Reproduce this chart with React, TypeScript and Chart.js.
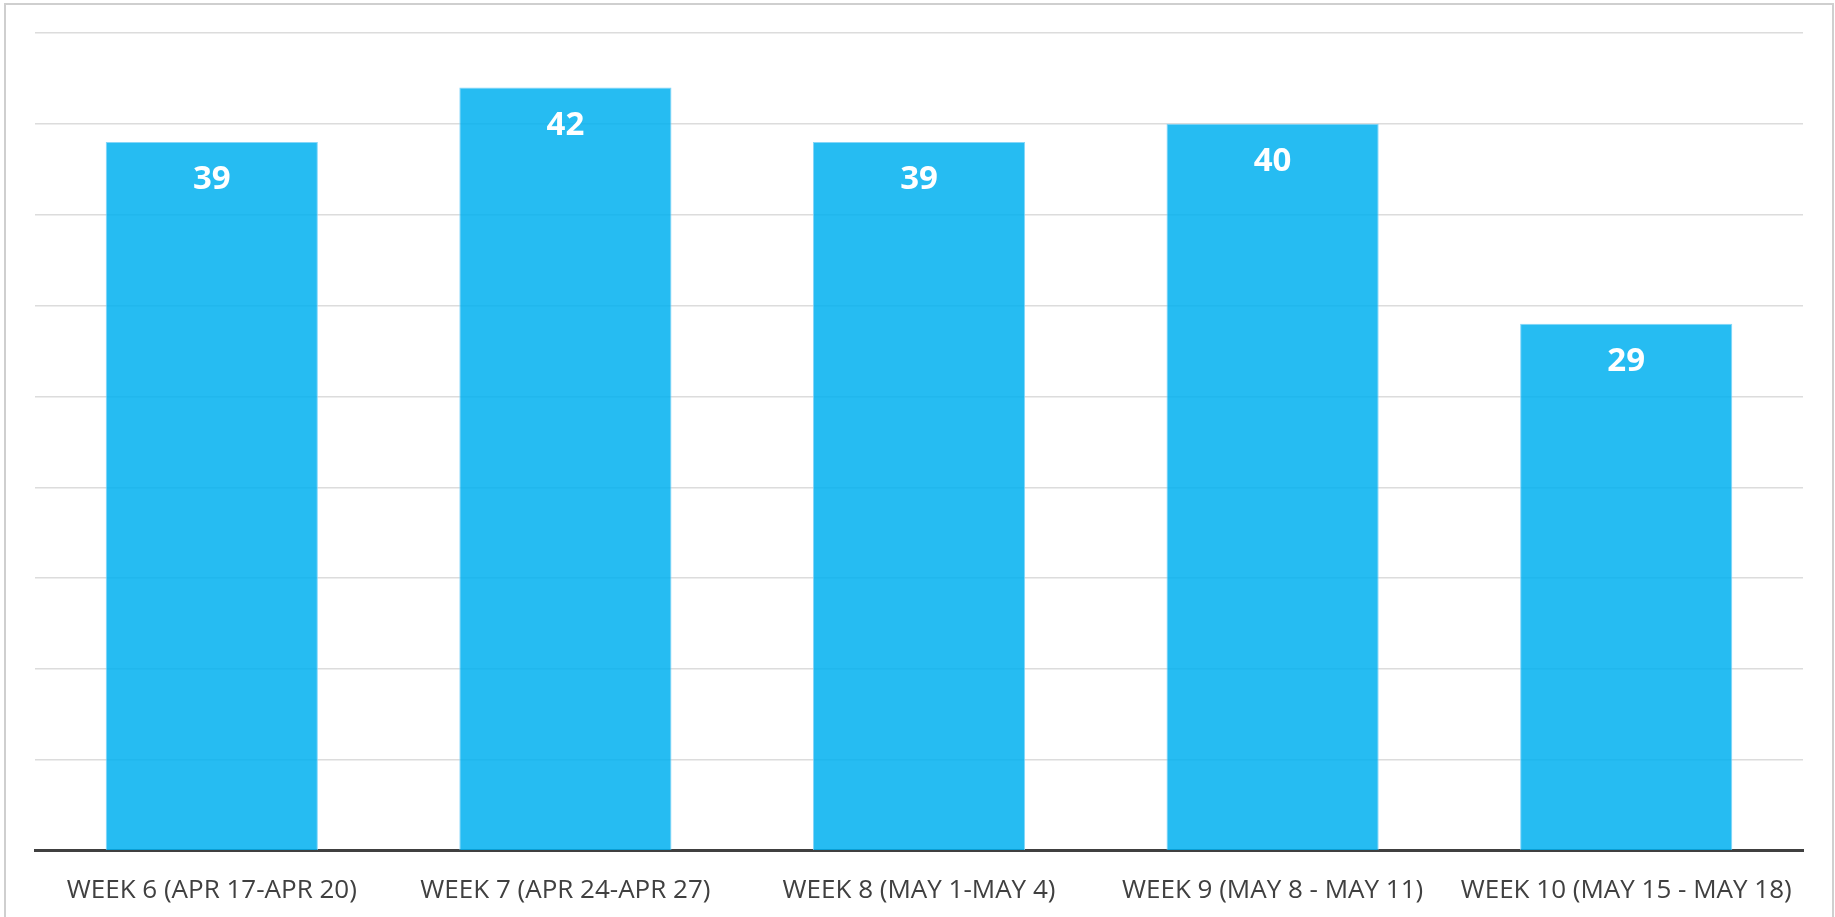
import React, { useEffect, useRef } from "react";
import { Chart, registerables } from "chart.js";

Chart.register(...registerables);

const categories = [
  "WEEK 6 (APR 17-APR 20)",
  "WEEK 7 (APR 24-APR 27)",
  "WEEK 8 (MAY 1-MAY 4)",
  "WEEK 9 (MAY 8 - MAY 11)",
  "WEEK 10 (MAY 15 - MAY 18)",
];
const values = [39, 42, 39, 40, 29];
const yMin = 0;
const yMax = 45;
const yStep = 5;

const valueLabels = {
  id: "valueLabels",
  afterDatasetsDraw(chart: any) {
    const { ctx } = chart;
    const meta = chart.getDatasetMeta(0);
    ctx.save();
    ctx.fillStyle = "#ffffff";
    ctx.font = "bold 33px 'Open Sans'";
    ctx.textAlign = "center";
    ctx.textBaseline = "middle";
    meta.data.forEach((bar: any, i: number) => {
      ctx.fillText(String(values[i]), bar.x, bar.y + 38);
    });
    ctx.restore();
  },
};

export default function App() {
  const ref = useRef<HTMLCanvasElement | null>(null);
  useEffect(() => {
    if (!ref.current) return;
    const chart = new Chart(ref.current, {
      type: "bar",
      data: {
        labels: categories,
        datasets: [
          {
            data: values,
            backgroundColor: "rgba(0,176,240,0.85)",
            borderColor: "rgba(120,210,248,0.9)",
            borderWidth: 1,
            categoryPercentage: 0.6,
            barPercentage: 1,
          },
        ],
      },
      options: {
        animation: false,
        responsive: false,
        maintainAspectRatio: false,
        layout: { padding: { left: 35, right: 32, top: 33, bottom: 14 } },
        plugins: { legend: { display: false }, tooltip: { enabled: false } },
        scales: {
          x: {
            grid: { display: false, drawTicks: false },
            border: { display: true, color: "#404040", width: 3 },
            ticks: {
              color: "#404040",
              font: { family: "'Open Sans'", size: 26 },
              padding: 24,
              maxRotation: 0,
              autoSkip: false,
            },
          },
          y: {
            min: yMin,
            max: yMax,
            ticks: { display: false, stepSize: yStep },
            grid: { color: "#dcdcdc", lineWidth: 1.5, drawTicks: false },
            border: { display: false },
          },
        },
      },
      plugins: [valueLabels],
    });
    return () => chart.destroy();
  }, []);
  return (
    <div style={{ position: "fixed", left: 0, top: 0, width: 1835, height: 917, background: "#fff", overflow: "hidden" }}>
      <div
        style={{
          position: "absolute",
          left: 4,
          top: 3,
          width: 1826,
          height: 930,
          borderLeft: "2px solid #cfcfcf",
          borderTop: "2px solid #cfcfcf",
          borderRight: "2px solid #cfcfcf",
        }}
      />
      <canvas ref={ref} width={1835} height={944} style={{ position: "absolute", left: 0, top: 0 }} />
    </div>
  );
}
